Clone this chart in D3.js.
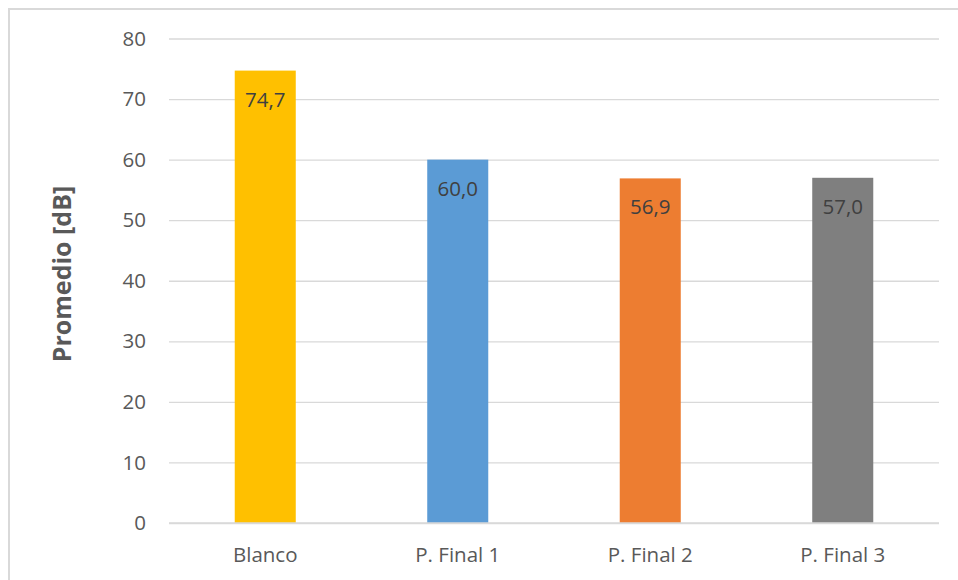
<!DOCTYPE html>
<html>
<head>
<meta charset="utf-8">
<script src="https://cdn.jsdelivr.net/npm/d3@7"></script>
<style>
  html, body { margin: 0; padding: 0; background: #fff; }
  svg { display: block; }
  svg text { font-family: "Open Sans", "Noto Sans", sans-serif; }
</style>
</head>
<body>
<svg id="chart" width="958" height="580"></svg>
<script>
// Average sound level per test case
const categories = ["Blanco", "P. Final 1", "P. Final 2", "P. Final 3"];
const values = [74.7, 60.0, 56.9, 57.0];
const barColors = ["#FFC000", "#5B9BD5", "#ED7D31", "#7F7F7F"];
const yTicks = [0, 10, 20, 30, 40, 50, 60, 70, 80];
const yTitle = "Promedio [dB]";

const FONT = "'Open Sans', 'Noto Sans', sans-serif";
const LABEL_SIZE = 20.5;
const svg = d3.select("#chart");
const W = 958, H = 580;
const plot = { left: 169, right: 939, top: 38.5, bottom: 523 };

// Chart frame
svg.append("rect")
  .attr("x", 9).attr("y", 9)
  .attr("width", W + 10).attr("height", H + 10)
  .attr("fill", "#fff")
  .attr("stroke", "#d9d9d9")
  .attr("stroke-width", 2);

const x = d3.scaleBand()
  .domain(categories)
  .range([plot.left, plot.right])
  .paddingInner(0.683)
  .paddingOuter(0.3415);

const y = d3.scaleLinear()
  .domain([0, 80])
  .range([plot.bottom, plot.top]);

// Horizontal gridlines and y tick labels
const yAxis = d3.axisLeft(y)
  .tickValues(yTicks)
  .tickSize(-(plot.right - plot.left))
  .tickPadding(23)
  .tickFormat(d3.format("d"));

const gy = svg.append("g")
  .attr("transform", `translate(${plot.left},0)`)
  .call(yAxis)
  .attr("font-family", FONT)
  .attr("font-size", LABEL_SIZE);
gy.select(".domain").remove();
gy.selectAll(".tick line")
  .attr("stroke", "#d9d9d9")
  .attr("stroke-width", 1.3);
gy.selectAll(".tick text")
  .attr("fill", "#595959");

// Bars
svg.append("g")
  .selectAll("rect")
  .data(categories)
  .join("rect")
  .attr("x", d => x(d))
  .attr("width", x.bandwidth())
  .attr("y", (d, i) => y(values[i]))
  .attr("height", (d, i) => y(0) - y(values[i]))
  .attr("fill", (d, i) => barColors[i]);

// Baseline drawn over the bars
svg.append("line")
  .attr("x1", plot.left).attr("x2", plot.right)
  .attr("y1", y(0)).attr("y2", y(0))
  .attr("stroke", "#d9d9d9")
  .attr("stroke-width", 1.5);

// Value labels inside the bars
const fmt = v => v.toFixed(1).replace(".", ",");
svg.append("g")
  .attr("font-family", FONT)
  .attr("font-size", LABEL_SIZE)
  .selectAll("text")
  .data(categories)
  .join("text")
  .attr("x", d => x(d) + x.bandwidth() / 2)
  .attr("y", (d, i) => y(values[i]) + 36)
  .attr("text-anchor", "middle")
  .attr("fill", "#404040")
  .text((d, i) => fmt(values[i]));

// Category axis labels
const xAxis = d3.axisBottom(x).tickSize(0).tickPadding(0);
const gx = svg.append("g")
  .attr("transform", `translate(0,${plot.bottom})`)
  .call(xAxis)
  .attr("font-family", FONT)
  .attr("font-size", LABEL_SIZE);
gx.select(".domain").remove();
gx.selectAll(".tick text")
  .attr("dy", null)
  .attr("y", 38.5)
  .attr("fill", "#595959");

// Y axis title
svg.append("text")
  .attr("transform", `translate(71,274) rotate(-90)`)
  .attr("text-anchor", "middle")
  .attr("fill", "#595959")
  .attr("font-family", FONT)
  .attr("font-size", 25)
  .attr("font-weight", "bold")
  .text(yTitle);
</script>
</body>
</html>
